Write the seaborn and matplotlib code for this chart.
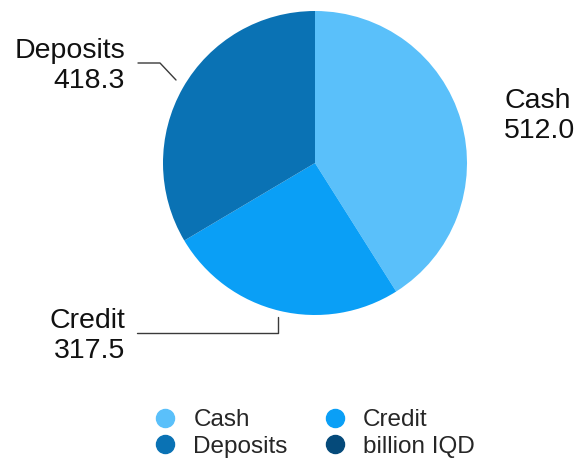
import matplotlib
matplotlib.use("Agg")
import matplotlib.pyplot as plt
from matplotlib.lines import Line2D
import seaborn as sns

categories = ["Cash", "Credit", "Deposits"]
values = [512.0, 317.5, 418.3]
legend_labels = ["Cash", "Credit", "Deposits", "billion IQD"]
palette = ["#5AC0FA", "#0A9FF6", "#0A72B4", "#054A7A"]

sns.set_theme(style="white")
plt.rcParams["font.family"] = ["Liberation Sans", "DejaVu Sans"]

W, H = 577, 462
fig = plt.figure(figsize=(W / 100, H / 100), dpi=100)
cx, cy, R = 315, 163, 152
ax = fig.add_axes([(cx - R) / W, (H - cy - R) / H, 2 * R / W, 2 * R / H])

ax.pie(values, colors=palette[:3], startangle=90, counterclock=False,
       radius=1, wedgeprops=dict(linewidth=0))
ax.set_xlim(-1, 1)
ax.set_ylim(-1, 1)
ax.set_aspect("equal")
ax.axis("off")


def d(px, py):
    return (px - cx) / R, (cy - py) / R


fs = 20.5
ls = 1.15
# Cash label
x, y = d(504, 116)
ax.text(x, y, f"{categories[0]}\n{values[0]:.1f}", ha="left", va="center",
        fontsize=fs, color="#111111", linespacing=ls, clip_on=False)
# Deposits label
x, y = d(125, 66)
ax.text(x, y, f"{categories[2]}\n{values[2]:.1f}", ha="right", va="center",
        fontsize=fs, color="#111111", linespacing=ls, multialignment="right", clip_on=False)
# Credit label
x, y = d(125, 336)
ax.text(x, y, f"{categories[1]}\n{values[1]:.1f}", ha="right", va="center",
        fontsize=fs, color="#111111", linespacing=ls, multialignment="right", clip_on=False)

# leader lines
pts = [d(138, 63), d(160, 63), d(176, 80)]
ax.plot([p[0] for p in pts], [p[1] for p in pts], color="#3a3a3a", lw=1, clip_on=False)
pts = [d(137, 333), d(278, 333), d(278, 317)]
ax.plot([p[0] for p in pts], [p[1] for p in pts], color="#3a3a3a", lw=1, clip_on=False)

handles = [Line2D([], [], marker="o", linestyle="none", markersize=13,
                  markerfacecolor=c, markeredgecolor=c) for c in palette]
order = [0, 2, 1, 3]
fig.legend([handles[i] for i in order], [legend_labels[i] for i in order],
           ncol=2, loc="center", bbox_to_anchor=(314 / W, 1 - 433.5 / H),
           frameon=False, fontsize=17.5, handletextpad=0.65, columnspacing=1.45,
           labelspacing=0.2, handlelength=1.0, borderpad=0)

fig.savefig("out.png", dpi=100)
